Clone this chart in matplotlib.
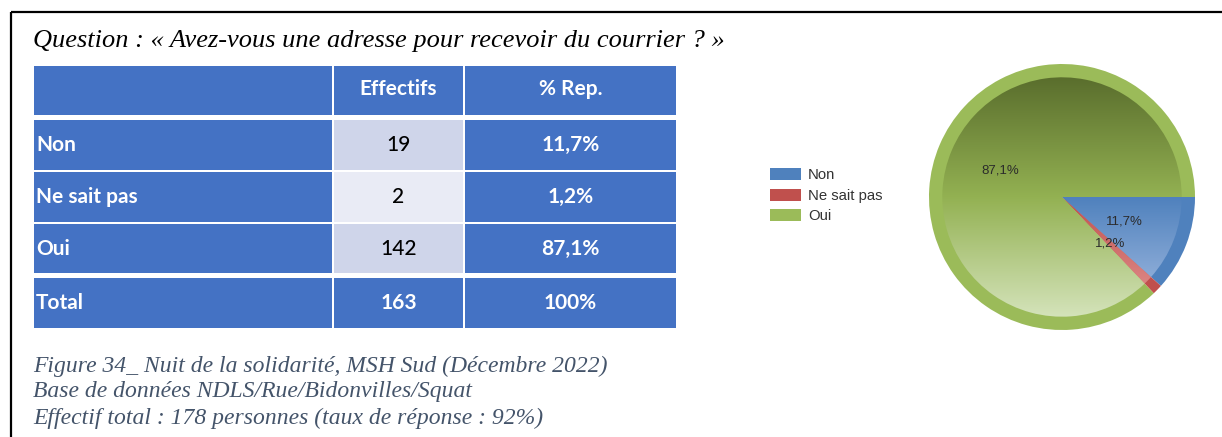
import numpy as np
import matplotlib
matplotlib.use("Agg")
import matplotlib.pyplot as plt
from matplotlib.patches import Rectangle, Patch
from matplotlib.colors import LinearSegmentedColormap

# Données
categories = ["Non", "Ne sait pas", "Oui"]
effectifs = [19, 2, 142]
pct_rep = ["11,7%", "1,2%", "87,1%"]
total_label = "Total"
total_effectif = 163
total_pct = "100%"
header = ["", "Effectifs", "% Rep."]

titre = "Question : « Avez-vous une adresse pour recevoir du courrier ? »"
legende = ["Figure 34_ Nuit de la solidarité, MSH Sud (Décembre 2022)",
           "Base de données NDLS/Rue/Bidonvilles/Squat",
           "Effectif total : 178 personnes (taux de réponse : 92%)"]

# couleurs
bleu_tab = "#4472C4"
eff_fonce = "#CFD5EA"
eff_clair = "#E9EBF5"
rim_cols = ["#4F81BD", "#C0504D", "#9BBB59"]
grad_cols = [["#2F5E9C", "#4F81BD", "#A9C0E4"],
             ["#9E3A38", "#C0504D", "#E59896"],
             ["#5A6E2D", "#93B152", "#D4E3BA"]]

W, H = 1222, 437
fig = plt.figure(figsize=(W / 100, H / 100), dpi=100)


def px_axes(x0, y0, x1, y1):
    # axes placé en pixels (origine en haut à gauche)
    return fig.add_axes([x0 / W, 1 - y1 / H, (x1 - x0) / W, (y1 - y0) / H])


# cadre
cadre = fig.add_axes([0, 0, 1, 1])
cadre.set_xlim(0, W)
cadre.set_ylim(H, 0)
cadre.axis("off")
cadre.plot([11, W], [12, 12], color="black", lw=1.6, solid_capstyle="butt")
cadre.plot([11, 11], [12, H], color="black", lw=1.6, solid_capstyle="butt")

fig.text(33 / W, 1 - 41 / H, titre, fontsize=19, family="Liberation Serif",
         style="italic", va="center", ha="left")

for i, ligne in enumerate(legende):
    fig.text(33 / W, 1 - (366 + 26 * i) / H, ligne, fontsize=17,
             family="Liberation Serif", style="italic", color="#44546A",
             va="center", ha="left")

# ---------- tableau ----------
tab = px_axes(34, 66, 676, 328)
tab.set_xlim(0, 642)
tab.set_ylim(262, 0)
tab.axis("off")

col_x = [(0, 298), (300, 429), (431, 642)]
row_y = [(0, 49), (54, 104), (106, 156), (158, 207), (212, 262)]

lignes = [header]
for c, e, p in zip(categories, effectifs, pct_rep):
    lignes.append([c, str(e), p])
lignes.append([total_label, str(total_effectif), total_pct])

font_tab = "Lato"
for r, (y0, y1) in enumerate(row_y):
    for c, (x0, x1) in enumerate(col_x):
        fc = bleu_tab
        txt_col = "white"
        weight = "bold"
        if c == 1 and 1 <= r <= 3:
            fc = eff_clair if r == 2 else eff_fonce
            txt_col = "black"
            weight = "medium"
        tab.add_patch(Rectangle((x0, y0), x1 - x0, y1 - y0, facecolor=fc,
                                edgecolor="none"))
        texte = lignes[r][c]
        ym = (y0 + y1) / 2 - (1.5 if r == 0 else 0)
        if c == 0:
            tab.text(x0 + 2, ym, texte, ha="left", va="center",
                     color=txt_col, fontsize=15, weight=weight, family=font_tab)
        else:
            tab.text((x0 + x1) / 2, ym, texte, ha="center", va="center",
                     color=txt_col, fontsize=15, weight=weight, family=font_tab)

# ---------- camembert ----------
cx, cy, R = 1062, 197, 133
pie_ax = px_axes(cx - 150, cy - 150, cx + 150, cy + 150)
lim = 150 / R
pie_ax.set_xlim(-lim, lim)
pie_ax.set_ylim(-lim, lim)
pie_ax.set_aspect("equal")
pie_ax.axis("off")

pie_ax.pie(effectifs, colors=rim_cols, startangle=0, counterclock=False,
           radius=1.0, wedgeprops=dict(linewidth=0), frame=True)

inner, _, autotexts = pie_ax.pie(
    effectifs, colors=rim_cols, startangle=0, counterclock=False, radius=0.9,
    wedgeprops=dict(linewidth=0), frame=True, pctdistance=0.56,
    autopct=lambda p: f"{p:.1f}%".replace(".", ","),
    textprops=dict(fontsize=9.5, family="Liberation Sans", color="#2B2B2B"))

grad = np.linspace(0, 1, 256).reshape(-1, 1)
for w, cols in zip(inner, grad_cols):
    cmap = LinearSegmentedColormap.from_list("g", cols)
    img = pie_ax.imshow(np.tile(grad, (1, 2)), cmap=cmap, vmin=0, vmax=1,
                        extent=[-0.9, 0.9, -0.9, 0.9], origin="upper",
                        aspect="auto", interpolation="bilinear", zorder=1.5)
    img.set_clip_path(w)
    w.set_facecolor("none")
for t in autotexts:
    t.set_zorder(5)

pie_ax.set_xlim(-lim, lim)
pie_ax.set_ylim(-lim, lim)

handles = [Patch(facecolor=c, edgecolor="none") for c in rim_cols]
fig.legend(handles, categories, loc="upper left",
           bbox_to_anchor=(770 / W, 1 - 168 / H), frameon=False,
           borderpad=0, borderaxespad=0, handlelength=2.1, handleheight=0.9,
           handletextpad=0.45, labelspacing=0.42,
           prop=dict(family="Liberation Sans", size=10.7), labelcolor="#333333")

fig.savefig("out.png", dpi=100)
